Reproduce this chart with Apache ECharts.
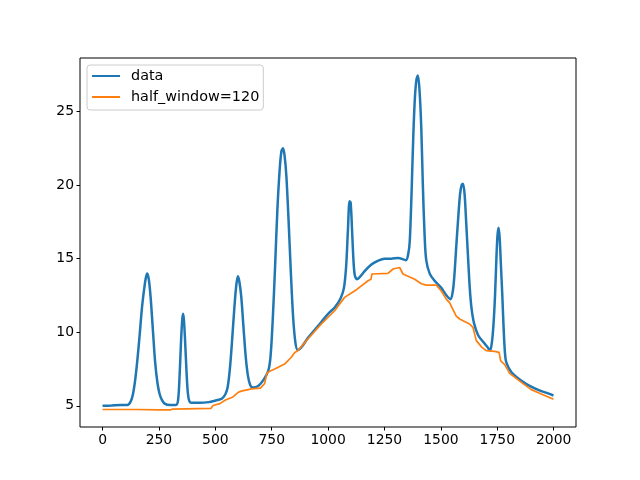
<!DOCTYPE html>
<html>
<head>
<meta charset="utf-8">
<title>baseline</title>
<script src="https://cdn.jsdelivr.net/npm/echarts@6/dist/echarts.min.js"></script>
</head>
<body style="margin:0">
<div id="chart" style="width:640px;height:480px"></div>
<script>
const dataX = [0, 40, 80, 110, 125, 135, 145, 155, 165, 175, 185, 192, 198, 205, 213, 223, 233, 243, 253, 263, 275, 300, 325,
  335, 342, 348, 353, 357, 361, 366, 372, 378, 385, 395, 430, 470, 510, 530, 545, 555, 565, 575, 585, 593, 600, 607, 615,
  625, 635, 645, 655, 665, 690, 715, 735, 745, 755, 765, 775, 785, 793, 800, 807, 815, 825, 835, 845, 855, 865, 880, 910,
  940, 970, 1000, 1030, 1055, 1070, 1080, 1088, 1095, 1100, 1106, 1112, 1118, 1128, 1140, 1165, 1192, 1220, 1250, 1280,
  1310, 1345, 1355, 1362, 1370, 1378, 1385, 1392, 1398, 1405, 1413, 1420, 1428, 1435, 1450, 1472, 1500, 1525, 1543, 1553,
  1560, 1568, 1576, 1585, 1592, 1598, 1605, 1612, 1620, 1628, 1636, 1647, 1665, 1690, 1706, 1718, 1726, 1733, 1740, 1746,
  1751, 1756, 1761, 1766, 1772, 1778, 1784, 1790, 1812, 1857, 1900, 1945, 1975, 1999];
const dataY = [5.0, 5.02, 5.05, 5.05, 5.3, 5.8, 6.8, 8.2, 9.9, 11.7, 13.0, 13.7, 14.0, 13.6, 12.4, 10.2, 8.0, 6.6, 5.8, 5.4, 5.15, 5.05, 5.05,
  5.4, 7.2, 9.4, 10.8, 11.25, 10.8, 9.4, 7.4, 5.9, 5.3, 5.2, 5.2, 5.25, 5.4, 5.5, 5.8, 6.3, 7.6, 9.6, 11.8, 13.2, 13.8, 13.4, 12.4,
  10.3, 8.3, 7.0, 6.4, 6.25, 6.35, 6.8, 7.4, 8.4, 11.0, 14.5, 18.3, 21.0, 22.3, 22.5, 22.0, 20.6, 17.5, 14.0, 11.0, 9.3, 8.8, 8.95, 9.6,
  10.15, 10.7, 11.25, 11.7, 12.3, 13.0, 14.5, 17.0, 18.9, 18.8, 17.0, 15.0, 13.9, 13.6, 13.75, 14.2, 14.6, 14.85, 15.0, 15.0,
  15.05, 14.9, 15.3, 16.2, 19.5, 23.5, 26.0, 27.2, 27.45, 26.5, 23.9, 20.0, 16.5, 14.9, 14.0, 13.5, 13.05, 12.5, 12.25, 12.8,
  13.9, 15.8, 17.6, 19.4, 20.0, 20.1, 19.4, 17.5, 15.2, 13.0, 11.6, 10.6, 9.8, 9.3, 9.0, 8.75, 9.3, 10.5, 12.5, 15.0,
  16.6, 17.1, 16.3, 14.6, 12.6, 10.3, 8.6, 7.95, 7.3, 6.7, 6.3, 6.0, 5.85, 5.7];

// baseline (half_window=120)
const baseX = [0, 150, 250, 300, 310, 480, 490, 520, 545, 578, 600, 615, 660, 700, 718, 730, 763, 807, 837, 852, 866, 911, 970,
  1029, 1073, 1117, 1177, 1190, 1194, 1265, 1288, 1317, 1332, 1384, 1413, 1435, 1480, 1502, 1524, 1539, 1568, 1583, 1627,
  1642, 1657, 1682, 1701, 1738, 1758, 1765, 1783, 1805, 1857, 1901, 1945, 1999];
const baseY = [4.75, 4.75, 4.72, 4.72, 4.78, 4.82, 5.02, 5.15, 5.4, 5.6, 5.9, 6.0, 6.15, 6.2, 6.5, 7.27, 7.5, 7.84, 8.3, 8.63, 8.75, 9.56, 10.57,
  11.46, 12.37, 12.8, 13.5, 13.6, 13.96, 14.0, 14.3, 14.4, 13.96, 13.6, 13.3, 13.2, 13.2, 12.8, 12.25, 12.0, 11.1, 10.9, 10.56,
  10.33, 9.43, 8.97, 8.75, 8.7, 8.63, 8.06, 7.8, 7.2, 6.59, 6.1, 5.8, 5.45];

const xTicks = [0, 250, 500, 750, 1000, 1250, 1500, 1750, 2000];
const yTicks = [5, 10, 15, 20, 25];

const font = 'DejaVu Sans';
const zip = (xs, ys) => xs.map((x, i) => [x, ys[i]]);

const chart = echarts.init(document.getElementById('chart'), null, { renderer: 'canvas' });
chart.setOption({
  animation: false,
  grid: {
    left: 80, right: 64, top: 58, bottom: 53,
    show: true, borderColor: '#000', borderWidth: 1, backgroundColor: 'transparent'
  },
  legend: {
    left: 87, top: 65, orient: 'vertical',
    itemWidth: 28, itemHeight: 2, itemGap: 7, icon: 'rect',
    padding: [4, 4, 6, 5],
    borderColor: '#cccccc', borderWidth: 1, borderRadius: 3,
    backgroundColor: 'rgba(255,255,255,0.8)',
    textStyle: { fontFamily: font, fontSize: 14.4, color: '#000', padding: [0, 0, 0, 6] },
    data: ['data', 'half_window=120']
  },
  xAxis: {
    type: 'value', min: -99.95, max: 2098.95,
    splitLine: { show: false },
    axisLine: { show: false, onZero: false },
    axisTick: { show: true, inside: false, length: 3.5, lineStyle: { color: '#000' }, customValues: xTicks },
    axisLabel: {
      color: '#000', fontFamily: font, fontSize: 13.9, margin: 6, customValues: xTicks,
      formatter: v => String(v)
    }
  },
  yAxis: {
    type: 'value', min: 3.56, max: 28.64,
    splitLine: { show: false },
    axisLine: { show: false, onZero: false },
    axisTick: { show: true, inside: false, length: 3.5, lineStyle: { color: '#000' }, customValues: yTicks },
    axisLabel: {
      color: '#000', fontFamily: font, fontSize: 13.9, margin: 6, customValues: yTicks,
      formatter: v => String(v)
    }
  },
  series: [
    {
      name: 'data', type: 'line', showSymbol: false, symbol: 'none', smooth: 0.3,
      color: '#1f77b4', lineStyle: { width: 2.5, color: '#1f77b4' },
      data: zip(dataX, dataY)
    },
    {
      name: 'half_window=120', type: 'line', showSymbol: false, symbol: 'none',
      color: '#ff7f0e', lineStyle: { width: 1.7, color: '#ff7f0e' },
      data: zip(baseX, baseY)
    }
  ]
});
</script>
</body>
</html>
